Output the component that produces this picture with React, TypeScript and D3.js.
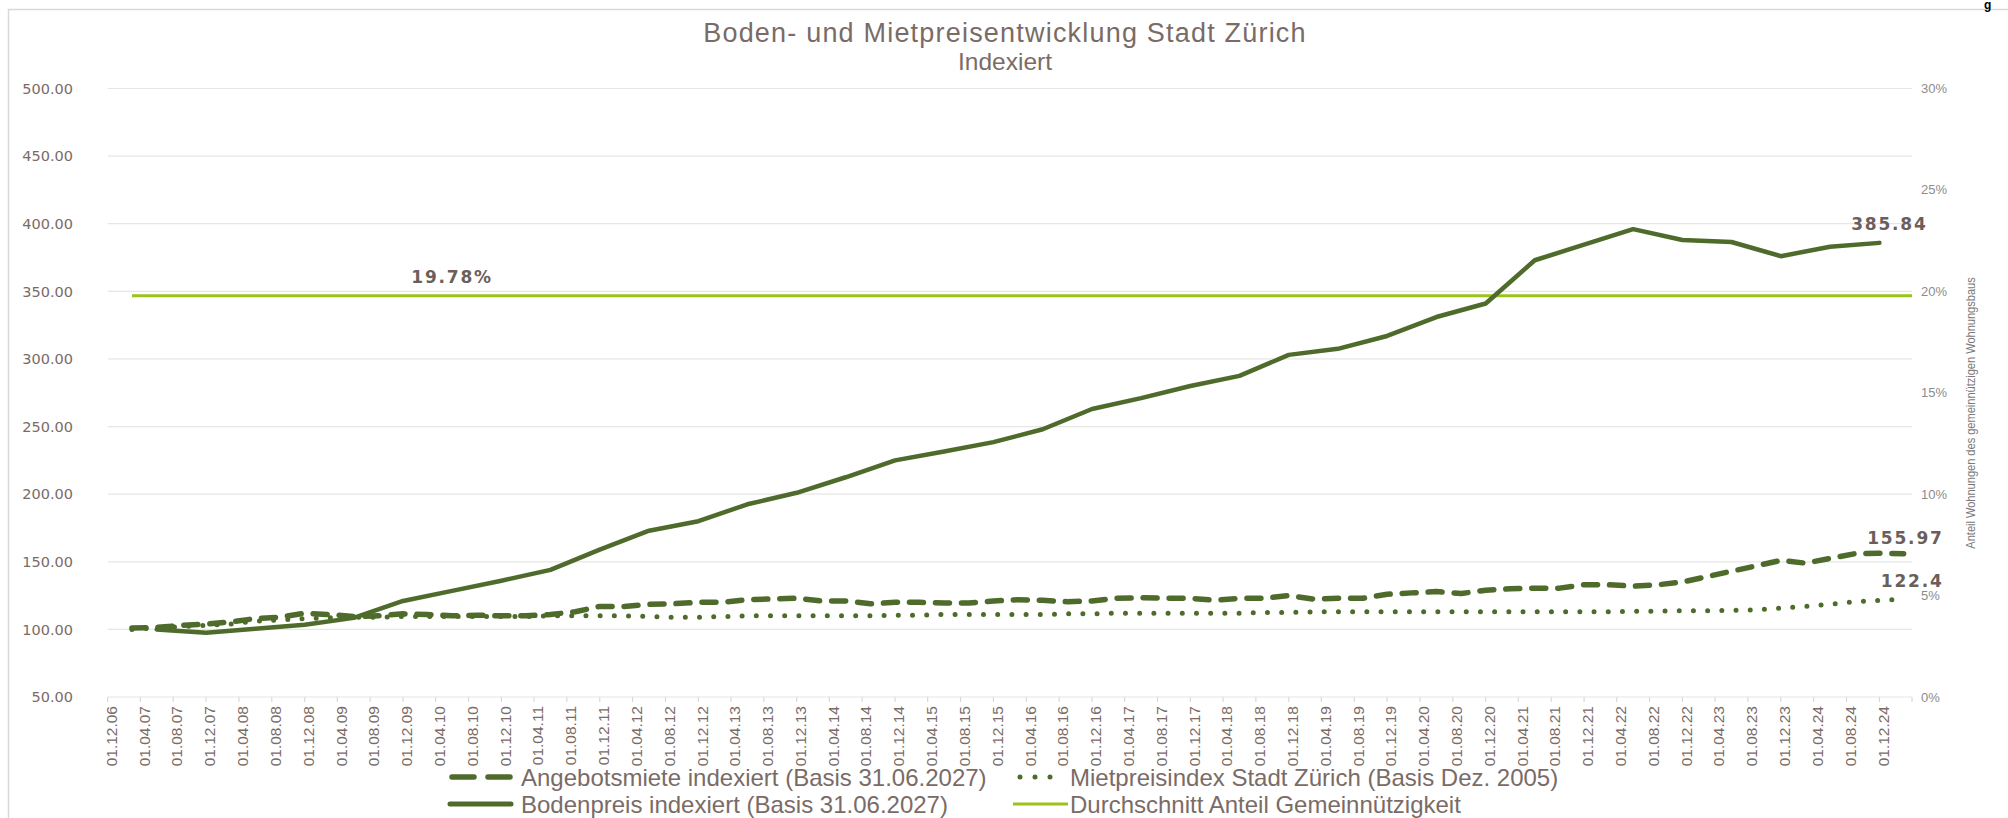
import React from "react";
import * as d3 from "d3";

const W = 2008;
const H = 818;

const tickLabels = [
  "01.12.06",
  "01.04.07","01.08.07","01.12.07",
  "01.04.08","01.08.08","01.12.08",
  "01.04.09","01.08.09","01.12.09",
  "01.04.10","01.08.10","01.12.10",
  "01.04.11","01.08.11","01.12.11",
  "01.04.12","01.08.12","01.12.12",
  "01.04.13","01.08.13","01.12.13",
  "01.04.14","01.08.14","01.12.14",
  "01.04.15","01.08.15","01.12.15",
  "01.04.16","01.08.16","01.12.16",
  "01.04.17","01.08.17","01.12.17",
  "01.04.18","01.08.18","01.12.18",
  "01.04.19","01.08.19","01.12.19",
  "01.04.20","01.08.20","01.12.20",
  "01.04.21","01.08.21","01.12.21",
  "01.04.22","01.08.22","01.12.22",
  "01.04.23","01.08.23","01.12.23",
  "01.04.24","01.08.24","01.12.24",
];

const leftTicks = [50, 100, 150, 200, 250, 300, 350, 400, 450, 500];
const rightTicks = [0, 5, 10, 15, 20, 25, 30];

// Angebotsmiete indexiert, quarterly Mar 2007 .. Mar 2025
const angebotsmiete = [
  101, 101.5, 103, 104,
  105.5, 108, 109, 112,
  111, 109.5, 110, 111.5,
  111, 110, 110.5, 110,
  110, 111, 113, 117,
  117, 118.5, 119, 120,
  120, 122, 122.5, 123,
  121, 121, 119, 120,
  120, 119.5, 119.5, 121,
  122, 121.5, 120.5, 121,
  123, 123.5, 123, 123,
  121.5, 123, 123, 125,
  122.5, 123, 123, 126,
  127, 128, 126.5, 129,
  130, 130.5, 130.5, 133,
  133, 132, 133, 135,
  139, 143, 147, 151,
  149, 152.5, 156, 156.3,
  155.97,
];

// Mietpreisindex Stadt Zürich, quarterly Mar 2007 .. Mar 2025
const mietpreisindex = [
  100, 101, 102, 103,
  104, 106, 107, 108,
  108.5, 109, 109, 109.5,
  109.5, 109.5, 109.5, 109.5,
  109.5, 110, 110, 110,
  110, 109.5, 109, 109,
  109.5, 110, 110, 110,
  110, 110, 110, 110.5,
  110.5, 111, 111, 111,
  111, 111, 111.5, 111.5,
  112, 112, 112, 112,
  112, 112, 112.5, 112.5,
  113, 113, 113, 113,
  113, 113, 113, 113,
  113, 113, 113, 113,
  113, 113.5, 113.5, 113.8,
  113.8, 114, 114.5, 115.8,
  117, 118.5, 120.5, 121.5,
  122.4,
];

// Bodenpreis indexiert, half-yearly Jun 2007 .. Dec 2024
const bodenpreis = [
  100, 97.6,
  100.5, 103.5,
  108.5, 121,
  128.5, 136,
  144, 159,
  173, 180,
  192.5, 201,
  212.5, 225,
  231.5, 238.5,
  248, 263,
  271, 280,
  287.5, 303,
  307.5, 317,
  331, 341,
  373, 384.5,
  396, 388,
  386.5, 376,
  383, 385.84,
];

const avgShare = 19.78;

const DARK = "#4e6b2b";
const LIME = "#9bc31c";
const TXT = "#7a6b66";
const LBL = "#6b5f5b";
const GRID = "#e6e6e6";

export default function App() {
  const parse = d3.timeParse("%d.%m.%y");
  const tickDates = tickLabels.map((l) => parse(l) as Date);
  const axisEnd = new Date(2025, 3, 1);

  const x = d3.scaleTime().domain([tickDates[0], axisEnd]).range([107.7, 1912]);
  const y = d3.scaleLinear().domain([50, 500]).range([697, 88.5]);
  const y2 = d3.scaleLinear().domain([0, 30]).range([697, 88.5]);

  const qDates = d3.timeMonth.range(new Date(2007, 2, 1), new Date(2025, 3, 1), 3);
  const hDates = d3.timeMonth.range(new Date(2007, 5, 1), new Date(2025, 0, 1), 6);

  const line = d3
    .line<[Date, number]>()
    .x((d) => x(d[0]))
    .y((d) => y(d[1]));

  const angPts: [Date, number][] = angebotsmiete.map((v, i) => [qDates[i], v]);
  const mietPts: [Date, number][] = mietpreisindex.map((v, i) => [qDates[i], v]);
  const bodPts: [Date, number][] = bodenpreis.map((v, i) => [hDates[i], v]);

  const avgLine = d3
    .line<Date>()
    .x((d) => x(d))
    .y(() => y2(avgShare));

  const lastAng = angPts[angPts.length - 1];
  const lastMiet = mietPts[mietPts.length - 1];
  const lastBod = bodPts[bodPts.length - 1];
  const avgLabelDate = new Date(2010, 5, 1);

  const fmt2 = (v: number) => v.toFixed(2);
  const fmtPct = (v: number) => `${v}%`;

  return (
    <svg
      width={W}
      height={H}
      style={{ position: "absolute", left: 0, top: 0, background: "#fff" }}
      fontFamily="'Liberation Sans', Arial, sans-serif"
    >
      <rect x={0} y={0} width={W} height={H} fill="#fff" />
      <rect x={8.5} y={9.5} width={W + 20} height={H + 20} fill="#fff" stroke="#d9d9d9" strokeWidth={1.5} />
      <text x={1984} y={8.5} fontSize={12} fontWeight="bold" fill="#000">g</text>

      {/* title */}
      <text x={1005} y={42} textAnchor="middle" fontSize={27} letterSpacing={1.2} fill={TXT}>
        Boden- und Mietpreisentwicklung Stadt Zürich
      </text>
      <text x={1005} y={70} textAnchor="middle" fontSize={24.5} fill={TXT}>
        Indexiert
      </text>

      {/* gridlines */}
      {leftTicks.map((t) => (
        <line key={"g" + t} x1={x.range()[0]} x2={x.range()[1]} y1={y(t)} y2={y(t)} stroke={GRID} strokeWidth={1.2} />
      ))}

      {/* x axis ticks */}
      {[...tickDates, axisEnd].map((d, i) => (
        <line key={"t" + i} x1={x(d)} x2={x(d)} y1={y(50)} y2={y(50) + 5} stroke="#d9d9d9" strokeWidth={1.2} />
      ))}

      {/* x labels */}
      {tickDates.map((d, i) => (
        <text
          key={"xl" + i}
          transform={`translate(${x(d) + 9.3},${y(50) + 9}) rotate(-90)`}
          textAnchor="end"
          fontSize={15.5}
          fill={TXT}
        >
          {tickLabels[i]}
        </text>
      ))}

      {/* left axis labels */}
      {leftTicks.map((t) => (
        <text key={"yl" + t} x={73} y={y(t) + 5.2} textAnchor="end" fontSize={14.5} fontFamily="'DejaVu Sans', sans-serif" fill={TXT}>
          {fmt2(t)}
        </text>
      ))}

      {/* right axis labels */}
      {rightTicks.map((t) => (
        <text key={"yr" + t} x={1921} y={y2(t) + 4.5} textAnchor="start" fontSize={13} fill="#8c8c8c">
          {fmtPct(t)}
        </text>
      ))}
      <text
        transform={`translate(1975,413) rotate(-90) scale(0.85,1)`}
        textAnchor="middle"
        fontSize={13}
        fill="#7a7a7a"
      >
        Anteil Wohnungen des gemeinnützigen Wohnungsbaus
      </text>

      {/* average line */}
      <path d={avgLine([qDates[0], axisEnd]) || ""} fill="none" stroke={LIME} strokeWidth={3} />

      {/* series */}
      <path d={line(mietPts) || ""} fill="none" stroke={DARK} strokeWidth={5} strokeDasharray="0 14.2" strokeLinecap="round" />
      <path d={line(angPts) || ""} fill="none" stroke={DARK} strokeWidth={5.5} strokeDasharray="14 12" strokeLinecap="round" strokeLinejoin="round" />
      <path d={line(bodPts) || ""} fill="none" stroke={DARK} strokeWidth={4.5} strokeLinejoin="round" strokeLinecap="round" />

      {/* data labels */}
      <g fontFamily="'DejaVu Sans', sans-serif" fontWeight="bold" fontSize={17} fill={LBL} letterSpacing={1.8}>
        <text x={x(avgLabelDate)} y={y2(avgShare) - 13} textAnchor="middle">{`${avgShare}%`}</text>
        <text x={x(lastBod[0]) + 10} y={y(lastBod[1]) - 13} textAnchor="middle">{fmt2(lastBod[1])}</text>
        <text x={x(lastAng[0]) + 40} y={y(lastAng[1]) - 10} textAnchor="end">{fmt2(lastAng[1])}</text>
        <text x={x(lastMiet[0]) + 40} y={y(lastMiet[1]) - 12} textAnchor="end">{String(lastMiet[1])}</text>
      </g>

      {/* legend */}
      <g fontSize={24} fill={TXT}>
        <line x1={452} x2={510} y1={777} y2={777} stroke={DARK} strokeWidth={5.5} strokeDasharray="22 14" strokeLinecap="round" />
        <text x={521} y={785.5}>Angebotsmiete indexiert (Basis 31.06.2027)</text>
        <line x1={1020} x2={1065} y1={777} y2={777} stroke={DARK} strokeWidth={5} strokeDasharray="0 15" strokeLinecap="round" />
        <text x={1070} y={785.5}>Mietpreisindex Stadt Zürich (Basis Dez. 2005)</text>
        <line x1={450} x2={511} y1={804} y2={804} stroke={DARK} strokeWidth={5} strokeLinecap="round" />
        <text x={521} y={812.5}>Bodenpreis indexiert (Basis 31.06.2027)</text>
        <line x1={1013} x2={1068} y1={804} y2={804} stroke={LIME} strokeWidth={3} />
        <text x={1070} y={812.5}>Durchschnitt Anteil Gemeinnützigkeit</text>
      </g>
    </svg>
  );
}
